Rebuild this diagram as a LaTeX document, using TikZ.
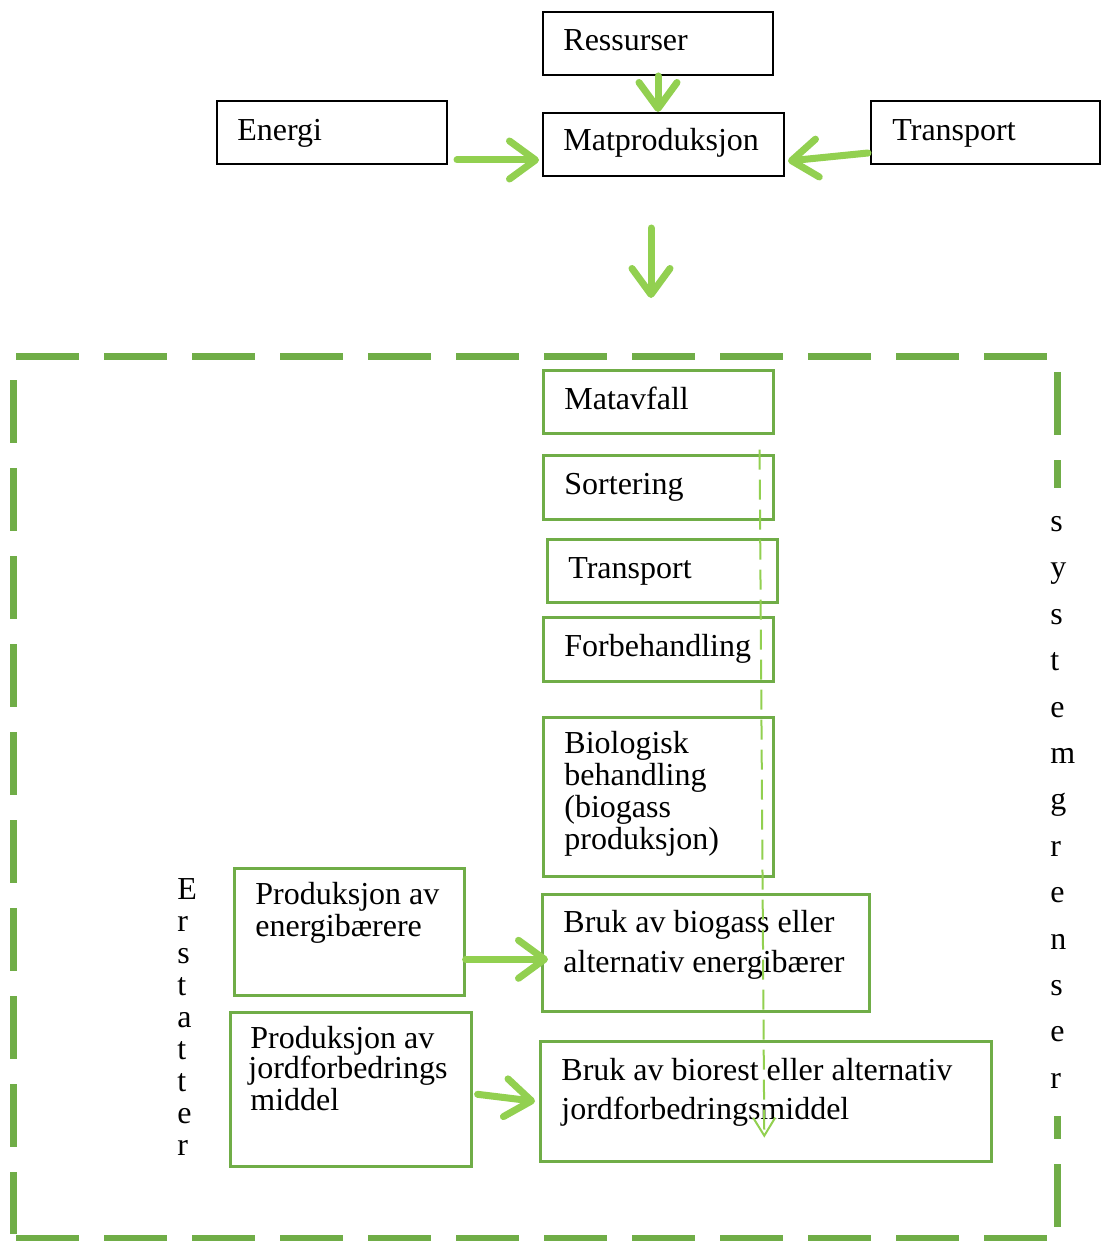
\documentclass[tikz,border=0pt]{standalone}
\usepackage{fontspec}
\setmainfont{Liberation Serif}
\usetikzlibrary{arrows.meta,calc}
\definecolor{frameGreen}{HTML}{70AD47}
\definecolor{arrowGreen}{HTML}{92D050}
\tikzset{
  blackbox/.style={draw=black, line width=1pt, fill=white, inner sep=0pt, anchor=north west},
  greenbox/.style={draw=frameGreen, line width=1.3pt, fill=white, inner sep=0pt, anchor=north west},
  txt/.style={font=\fontsize{16pt}{16pt}\selectfont, inner sep=0pt, anchor=base west},
  flow/.style={draw=arrowGreen, line width=3.5pt, line cap=round,
    -{Straight Barb[round, length=13pt, width=19pt]}},
  thinflow/.style={draw=arrowGreen, line width=1pt, dash pattern=on 10pt off 5pt,
    -{Straight Barb[length=9pt, width=11pt]}},
  border/.style={draw=frameGreen, line width=3.5pt, dash pattern=on 31.5pt off 12.5pt},
}
% box from corner (x1,y1) to corner (x2,y2), in pixel units
\newcommand\boxat[6]{\node[#1, minimum width={(#4-#2)*0.5pt}, minimum height={(#5-#3)*0.5pt}] (#6) at (#2,#3) {};}
\begin{document}
\begin{tikzpicture}[x=0.5pt,y=-0.5pt]
\useasboundingbox (0,0) rectangle (1100,1241);

% system boundary, one dashed side at a time
\draw[border] (16,356) -- (1048,356);
\draw[border] (1057,372) -- (1057,1228);
\draw[border] (13,380) -- (13,1234);
\draw[border] (16,1238) -- (1048,1238);

% upper part: food production and its inputs
\boxat{blackbox}{542}{11}{772}{74}{ress}
\boxat{blackbox}{216}{100}{446}{163}{energi}
\boxat{blackbox}{542}{112}{783}{175}{mat}
\boxat{blackbox}{870}{100}{1099}{163}{transp}
\node[txt] (ress-t) at (563,51) {Ressurser};
\node[txt] (energi-t) at (237,141) {Energi};
\node[txt] (mat-t) at (563,151) {Matproduksjon};
\node[txt] (transp-t) at (892,141) {Transport};

\draw[flow] (ress.south) -- (ress.south |- mat.north);
\coordinate (eStart) at ($(energi.south east)+(9,-5)$);
\draw[flow] (eStart) -- ($(mat.west |- eStart)+(-3,0)$);
\draw[flow] ($(transp.south west)+(-2,-12)$) -- ($(mat.east)+(3,16.5)$);
\coordinate (downStart) at (651,228);
\coordinate (downEnd) at (651,298);
\draw[flow] (downStart) -- (downEnd);

% treatment chain
\boxat{greenbox}{542}{369}{772}{432}{mavf}
\boxat{greenbox}{542}{454}{772}{518}{sort}
\boxat{greenbox}{546}{538}{776}{601}{trans2}
\boxat{greenbox}{542}{616}{772}{680}{forb}
\boxat{greenbox}{542}{716}{772}{875}{bio}
\boxat{greenbox}{541}{893}{868}{1010}{brukgas}
\boxat{greenbox}{539}{1040}{990}{1160}{brukrest}
\boxat{greenbox}{233}{867}{463}{994}{prodE}
\boxat{greenbox}{229}{1011}{470}{1165}{prodJ}

\node[txt] (mavf-t) at (564,409) {Matavfall};
\node[txt] (sort-t) at (564,494) {Sortering};
\node[txt] (trans2-t) at (568,578) {Transport};
\node[txt] (forb-t) at (564,656) {Forbehandling};
\node[txt] (bio-t1) at (564,753) {Biologisk};
\node[txt] (bio-t2) at (564,785) {behandling};
\node[txt] (bio-t3) at (564,817) {(biogass};
\node[txt] (bio-t4) at (564,849) {produksjon)};
\node[txt] (brukgas-t1) at (563,932) {Bruk av biogass eller};
\node[txt] (brukgas-t2) at (563,972) {alternativ energibærer};
\node[txt] (brukrest-t1) at (561,1080) {Bruk av biorest eller alternativ};
\node[txt] (brukrest-t2) at (561,1119) {jordforbedringsmiddel};
\node[txt] (prodE-t1) at (255,904) {Produksjon av};
\node[txt] (prodE-t2) at (255,936) {energibærere};
\node[txt] (prodJ-t1) at (250,1048) {Produksjon av};
\node[txt] (prodJ-t2) at (248,1078) {jordforbedrings};
\node[txt] (prodJ-t3) at (250,1110) {middel};

\draw[flow] ($(prodE.east)+(0,27.5)$) -- ($(brukgas.west)+(7,6.5)$);
\draw[flow] ($(prodJ.east)+(5,5)$) -- ($(brukrest.west)+(-4,0)$);

% flow through the chain
\coordinate (chainStart) at ($(mavf.south east)+(-15,15)$);
\coordinate (chainEnd) at ($(brukrest.south)+(-1.5,-25)$);
\draw[thinflow] (chainStart) -- (chainEnd);

% vertical labels
\node[font=\fontsize{16pt}{16pt}\selectfont, align=left, inner sep=0pt, anchor=north west]
  (erstatter) at (177,878) {E\\r\\s\\t\\a\\t\\t\\e\\r};
\node[font=\fontsize{16pt}{23.2pt}\selectfont, align=left, fill=white,
  inner xsep=4pt, inner ysep=14pt, anchor=north west]
  (grenser) at (1042,488) {s\\y\\s\\t\\e\\m\\g\\r\\e\\n\\s\\e\\r};
\end{tikzpicture}
\end{document}
